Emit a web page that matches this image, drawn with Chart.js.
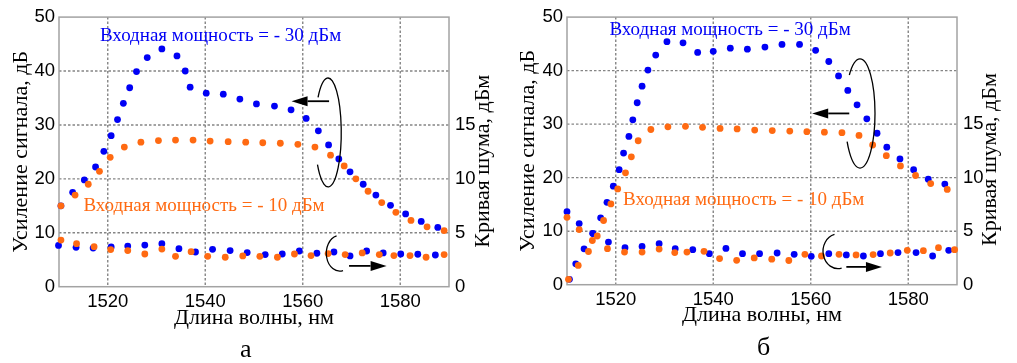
<!DOCTYPE html>
<html><head><meta charset="utf-8">
<script src="https://cdn.jsdelivr.net/npm/chart.js@4.4.0/dist/chart.umd.min.js"></script>
<style>
html,body{margin:0;padding:0;background:#fff;}
#wrap{position:relative;width:1017px;height:363px;overflow:hidden;background:#fff;}
canvas{position:absolute;top:0;}
</style></head><body>
<div id="wrap">
<canvas id="ca" width="508" height="363" style="left:0"></canvas>
<canvas id="cb" width="509" height="363" style="left:508px"></canvas>
</div>
<script>
// ---- tick labels ----
const xTicks = [1520, 1540, 1560, 1580];
const gainTicks = [0, 10, 20, 30, 40, 50];
const nfTicks = [0, 5, 10, 15];

// ---- texts ----
const xTitle = 'Длина волны, нм';
const gainTitle = 'Усиление сигнала, дБ';
const nfTitle = 'Кривая шума, дБм';
const labelHigh = 'Входная мощность = - 30 дБм';
const labelLow = 'Входная мощность = - 10 дБм';

// ---- panel а ----
const aBlueGainX = [1510.4,1512.8,1515.2,1517.5,1519.2,1520.7,1522.0,1523.2,1524.5,1525.9,1528.1,1531.1,1534.2,1535.9,1536.9,1540.2,1543.7,1547.1,1550.5,1554.2,1557.6,1560.7,1563.2,1565.3,1567.4,1569.7,1572.4,1575.0,1578.0,1581.1,1584.3,1587.7];
const aBlueGain  = [15.0,17.5,19.8,22.2,25.1,28.0,31.0,34.0,36.9,39.9,42.5,44.1,42.8,40.0,37.0,35.9,35.7,34.8,33.9,33.5,32.8,31.2,28.9,26.3,23.7,21.3,19.0,17.0,15.1,13.5,12.1,11.0];
const aOrangeGainX = [1510.4,1513.3,1516.0,1518.3,1520.5,1523.4,1526.8,1530.4,1533.9,1537.5,1541.0,1544.7,1548.3,1551.8,1555.4,1559.0,1562.5,1565.7,1568.5,1570.9,1573.4,1576.2,1579.1,1582.2,1585.5,1589.0];
const aOrangeGain  = [15.0,17.0,19.0,21.4,24.0,25.9,26.8,27.1,27.2,27.2,27.0,26.9,26.8,26.7,26.6,26.4,25.9,24.4,22.4,20.0,17.7,15.6,13.8,12.3,11.1,10.4];
const aBlueNfX = [1509.9,1513.5,1517.0,1520.7,1524.1,1527.6,1531.1,1534.6,1538.0,1541.5,1545.1,1548.6,1552.3,1555.8,1559.3,1562.9,1566.4,1569.7,1573.1,1576.5,1580.1,1583.6,1587.2];
const aBlueNf  = [3.83,3.65,3.58,3.68,3.77,3.86,3.99,3.53,3.22,3.47,3.35,3.16,2.98,3.03,3.31,3.10,3.22,2.85,3.31,3.13,3.03,3.01,2.94];
const aOrangeNfX = [1510.4,1513.6,1517.2,1520.6,1524.1,1527.6,1531.1,1533.9,1537.1,1540.5,1544.1,1547.7,1551.2,1554.8,1558.3,1561.7,1565.2,1568.7,1572.2,1575.7,1578.7,1582.0,1585.3,1589.0];
const aOrangeNf  = [4.32,3.99,3.71,3.44,3.35,3.03,3.49,2.82,3.25,2.82,2.73,2.85,2.82,2.73,3.03,2.89,3.07,2.98,3.13,2.98,2.89,2.89,2.73,2.98];

// ---- panel б ----
const bBlueGainX = [1510.5,1511.8,1513.5,1515.3,1516.9,1518.2,1519.5,1520.7,1521.6,1522.7,1523.5,1524.4,1525.4,1526.6,1528.2,1530.5,1533.8,1536.8,1540.0,1543.5,1547.0,1550.6,1554.1,1557.7,1561.0,1563.7,1565.7,1567.6,1569.5,1571.5,1573.6,1575.6,1578.3,1581.1,1584.1,1587.5];
const bBlueGain  = [1.0,3.9,6.7,9.6,12.5,15.4,18.4,21.5,24.6,27.7,30.8,34.0,37.1,40.1,42.9,45.4,45.2,43.4,43.6,44.2,44.0,44.4,44.9,44.9,43.8,41.7,39.0,36.3,33.6,31.0,28.3,25.7,23.5,21.5,19.7,18.8];
const bOrangeGainX = [1510.3,1512.3,1514.4,1516.2,1517.5,1519.0,1520.4,1522.0,1523.2,1524.6,1527.2,1530.7,1534.3,1537.8,1541.4,1544.9,1548.5,1552.1,1555.7,1559.2,1562.8,1566.4,1569.9,1572.7,1575.5,1578.4,1581.5,1584.6,1588.0];
const bOrangeGain  = [1.0,3.6,6.2,9.1,12.0,15.1,17.9,20.9,23.9,26.9,29.0,29.5,29.6,29.4,29.2,29.1,28.9,28.8,28.7,28.6,28.5,28.4,27.9,26.1,24.1,22.2,20.4,18.9,17.8];
const bBlueNfX = [1510.0,1512.5,1515.3,1518.5,1521.9,1525.4,1528.9,1532.2,1535.8,1539.2,1542.6,1546.0,1549.5,1553.1,1556.6,1560.1,1563.7,1567.3,1570.8,1574.3,1577.9,1581.6,1585.0,1588.3];
const bBlueNf  = [6.82,5.71,4.78,3.98,3.46,3.58,3.83,3.37,3.27,2.90,3.39,2.90,2.90,2.96,2.84,2.65,2.90,2.78,2.68,2.90,3.00,3.00,2.68,3.21];
const bOrangeNfX = [1510.0,1512.5,1515.2,1518.3,1521.8,1525.4,1528.9,1532.1,1534.6,1538.1,1541.3,1544.8,1548.4,1552.0,1555.5,1558.8,1562.2,1565.8,1569.3,1572.8,1576.3,1579.8,1583.1,1586.2,1589.5];
const bOrangeNf  = [6.29,5.15,4.13,3.37,3.05,3.05,3.33,3.00,3.05,3.12,2.44,2.28,2.50,2.38,2.26,2.84,2.68,2.84,2.78,2.81,2.96,3.21,3.18,3.46,3.27];

const BLUE = '#0000f5';
const ORANGE = '#ff6a12';
const SERIF = '"Liberation Serif", "Times New Roman", serif';
const SANS = '"Liberation Sans", Arial, sans-serif';

const pairs = (xs, ys) => xs.map((x, i) => ({x, y: ys[i]}));

// dotted grid and frame around the plotting area
const framePlugin = {
  id: 'frame',
  beforeDatasetsDraw(chart) {
    const a = chart.chartArea, ctx = chart.ctx;
    const xs = chart.scales.x, ys = chart.scales.y;
    ctx.save();
    ctx.strokeStyle = '#858585';
    ctx.lineWidth = 1.4;
    ctx.setLineDash([2.5, 2]);
    ctx.beginPath();
    for (const t of xTicks) {
      const x = xs.getPixelForValue(t);
      ctx.moveTo(x, a.top);
      ctx.lineTo(x, a.bottom);
    }
    for (const t of gainTicks.slice(1, -1)) {
      const y = ys.getPixelForValue(t);
      ctx.moveTo(a.left, y);
      ctx.lineTo(a.right, y);
    }
    ctx.stroke();
    ctx.setLineDash([]);
    ctx.strokeStyle = '#a3a3a3';
    ctx.lineWidth = 1.5;
    ctx.strokeRect(a.left, a.top, a.right - a.left, a.bottom - a.top);
    ctx.restore();
  }
};

const notesPlugin = {
  id: 'notes',
  afterDraw(chart, args, o) {
    const ctx = chart.ctx, xs = chart.scales.x, ys = chart.scales.y, a = chart.chartArea;
    const px = v => xs.getPixelForValue(v), py = v => ys.getPixelForValue(v);
    ctx.save();
    ctx.font = '19px ' + SERIF;
    ctx.textAlign = 'left';
    ctx.textBaseline = 'alphabetic';
    for (const t of o.texts) {
      ctx.fillStyle = t.color;
      ctx.fillText(t.text, px(t.x), py(t.y));
    }
    ctx.strokeStyle = '#000';
    ctx.lineWidth = 1.3;
    for (const l of o.loops) {
      const cx = px(l.x), cy = py(l.y);
      const rx = Math.abs(px(l.x + l.rx) - cx), ry = Math.abs(py(l.y + l.ry) - cy);
      ctx.beginPath();
      ctx.ellipse(cx, cy, rx, ry, 0, l.a0, l.a1, !!l.ccw);
      ctx.stroke();
    }
    ctx.fillStyle = '#000';
    for (const ar of o.arrows) {
      const x0 = px(ar.x0), x1 = px(ar.x1), y = py(ar.y);
      const dir = Math.sign(x1 - x0), hl = 16, hw = 5;
      ctx.lineWidth = 1.8;
      ctx.beginPath();
      ctx.moveTo(x0, y);
      ctx.lineTo(x1 - dir * hl, y);
      ctx.stroke();
      ctx.beginPath();
      ctx.moveTo(x1, y);
      ctx.lineTo(x1 - dir * hl, y - hw);
      ctx.lineTo(x1 - dir * hl, y + hw);
      ctx.closePath();
      ctx.fill();
    }
    ctx.font = '22px ' + SERIF;
    ctx.fillStyle = '#000';
    ctx.textAlign = 'center';
    ctx.textBaseline = 'middle';
    ctx.translate(a.right + o.rtDx, (a.top + a.bottom) / 2 + o.rtDy);
    ctx.rotate(-Math.PI / 2);
    ctx.fillText(nfTitle, 0, 0);
    ctx.restore();
    ctx.save();
    ctx.font = '26px ' + SERIF;
    ctx.fillStyle = '#000';
    ctx.textAlign = 'center';
    ctx.textBaseline = 'alphabetic';
    ctx.fillText(o.letter, (a.left + a.right) / 2 + o.letDx, o.letY);
    ctx.restore();
  }
};

function makeChart(id, d, g) {
  const tickFont = {family: SANS, size: 18.5};
  const titleFont = {family: SERIF, size: 22};
  return new Chart(document.getElementById(id), {
    type: 'scatter',
    data: {datasets: [
      {data: pairs(d.bgX, d.bg), yAxisID: 'y', backgroundColor: BLUE, order: 2},
      {data: pairs(d.bnX, d.bn), yAxisID: 'y1', backgroundColor: BLUE, order: 2},
      {data: pairs(d.ogX, d.og), yAxisID: 'y', backgroundColor: ORANGE, order: 1},
      {data: pairs(d.onX, d.on), yAxisID: 'y1', backgroundColor: ORANGE, order: 1}
    ].map(ds => Object.assign(ds, {pointRadius: 3.4, pointBorderWidth: 0, borderWidth: 0, showLine: false, clip: false}))},
    plugins: [framePlugin, notesPlugin],
    options: {
      responsive: false,
      devicePixelRatio: 1,
      animation: false,
      events: [],
      layout: {padding: {top: g.top, left: 0, right: 0, bottom: 0}},
      plugins: {
        legend: {display: false},
        tooltip: {enabled: false},
        notes: g.notes
      },
      scales: {
        x: {
          type: 'linear', position: 'bottom', min: 1510, max: 1590,
          afterBuildTicks: s => { s.ticks = xTicks.map(v => ({value: v})); },
          afterFit: s => { s.height = g.xh; },
          ticks: {font: tickFont, color: '#000', padding: 4, maxRotation: 0, autoSkip: false, callback: v => String(v)},
          grid: {display: false, drawTicks: false},
          border: {display: false},
          title: {display: true, text: xTitle, font: titleFont, color: '#000', padding: {top: 0, bottom: g.xtPad}}
        },
        y: {
          type: 'linear', position: 'left', min: 0, max: 50,
          afterBuildTicks: s => { s.ticks = gainTicks.map(v => ({value: v})); },
          afterFit: s => { s.width = 59; },
          ticks: {font: tickFont, color: '#000', padding: 4, autoSkip: false, callback: v => String(v)},
          grid: {display: false, drawTicks: false},
          border: {display: false},
          title: {display: true, text: gainTitle, font: titleFont, color: '#000', padding: {top: g.ytPad, bottom: 0}}
        },
        y1: {
          type: 'linear', position: 'right', min: 0, max: 25,
          afterBuildTicks: s => { s.ticks = nfTicks.map(v => ({value: v})); },
          afterFit: s => { s.width = g.rw; },
          ticks: {font: tickFont, color: '#000', padding: 6, autoSkip: false, callback: v => String(v)},
          grid: {display: false, drawTicks: false},
          border: {display: false}
        }
      }
    }
  });
}

makeChart('ca',
  {bgX: aBlueGainX, bg: aBlueGain, bnX: aBlueNfX, bn: aBlueNf, ogX: aOrangeGainX, og: aOrangeGain, onX: aOrangeNfX, on: aOrangeNf},
  {top: 14.7, xh: 76.3, rw: 59, xtPad: 31.8, ytPad: 8.5,
   notes: {
     texts: [
       {text: labelHigh, color: BLUE, x: 1518.4, y: 45.6},
       {text: labelLow, color: ORANGE, x: 1515.0, y: 14.0}
     ],
     loops: [
       {x: 1565.2, y: 28.6, rx: 2.7, ry: 10.1, a0: -2.44, a1: 2.51},
       {x: 1567.6, y: 6.2, rx: 2.77, ry: 3.31, a0: -1.81, a1: 1.33, ccw: true}
     ],
     arrows: [
       {x0: 1565.4, x1: 1557.7, y: 34.4},
       {x0: 1569.5, x1: 1577.2, y: 3.86}
     ],
     rtDx: 34.3, rtDy: 9.3, letter: 'а', letDx: -8.3, letY: 357
   }});

makeChart('cb',
  {bgX: bBlueGainX, bg: bBlueGain, bnX: bBlueNfX, bn: bBlueNf, ogX: bOrangeGainX, og: bOrangeGain, onX: bOrangeNfX, on: bOrangeNf},
  {top: 14.5, xh: 78.3, rw: 60, xtPad: 34.8, ytPad: 7.5,
   notes: {
     texts: [
       {text: labelHigh, color: BLUE, x: 1518.7, y: 46.6},
       {text: labelLow, color: ORANGE, x: 1521.5, y: 14.9}
     ],
     loops: [
       {x: 1570.1, y: 32.0, rx: 3.08, ry: 10.2, a0: -2.36, a1: 2.6},
       {x: 1565.6, y: 6.24, rx: 3.08, ry: 3.24, a0: -1.81, a1: 1.33, ccw: true}
     ],
     arrows: [
       {x0: 1567.9, x1: 1560.3, y: 32.0},
       {x0: 1567.3, x1: 1574.6, y: 3.33}
     ],
     rtDx: 33.3, rtDy: 8.7, letter: 'б', letDx: 1.7, letY: 355
   }});
</script>
</body></html>
